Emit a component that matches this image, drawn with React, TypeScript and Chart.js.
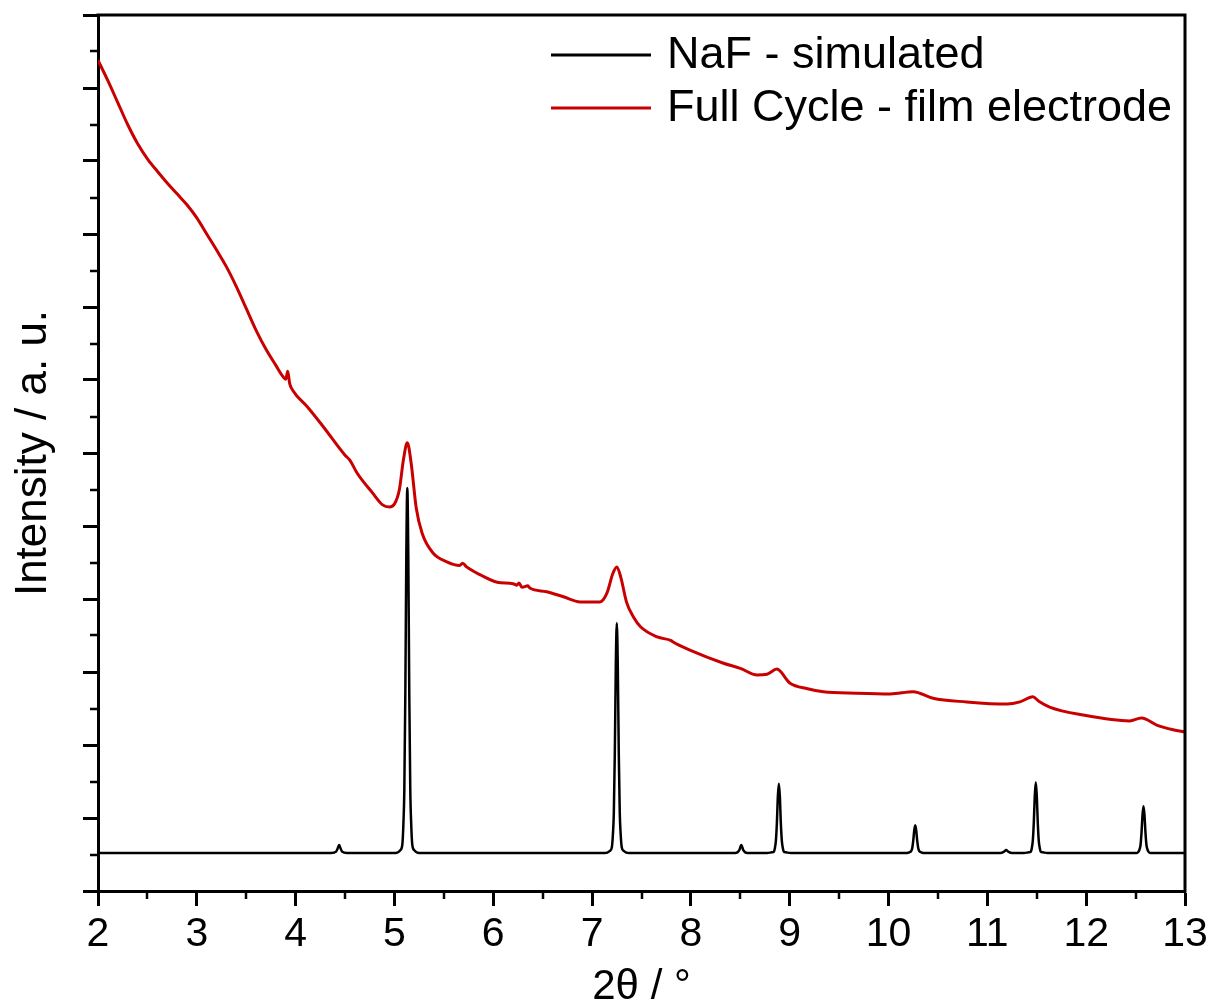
import React, { useEffect, useRef } from 'react';
import { Chart, registerables } from 'chart.js';

Chart.register(...registerables);

const FONT = "'Liberation Sans', Arial, sans-serif";

// NaF - simulated (black)
const nafTheta = [
  2.0, 4.36, 4.41, 4.43, 4.44, 4.45, 4.47, 4.52,
  5.01, 5.06, 5.08, 5.09, 5.10, 5.11, 5.12, 5.13, 5.14, 5.15, 5.16, 5.17, 5.18, 5.20, 5.25,
  7.13, 7.18, 7.20, 7.21, 7.22, 7.23, 7.24, 7.25, 7.26, 7.27, 7.28, 7.29, 7.30, 7.32, 7.37,
  8.45, 8.49, 8.51, 8.53, 8.57,
  8.77, 8.82, 8.84, 8.85, 8.86, 8.87, 8.88, 8.89, 8.90, 8.91, 8.92, 8.93, 8.94, 8.96, 9.01,
  10.16, 10.21, 10.23, 10.24, 10.25, 10.26, 10.27, 10.28, 10.29, 10.30, 10.31, 10.33, 10.38,
  11.13, 11.17, 11.19, 11.21, 11.25,
  11.37, 11.42, 11.44, 11.45, 11.46, 11.47, 11.48, 11.49, 11.50, 11.51, 11.52, 11.53, 11.54, 11.56, 11.61,
  12.47, 12.51, 12.53, 12.54, 12.55, 12.56, 12.57, 12.58, 12.59, 12.60, 12.61, 12.62, 12.63, 12.65, 12.70,
  13.0,
];
const nafIntensity = [
  0.52, 0.52, 0.54, 0.60, 0.63, 0.60, 0.54, 0.52,
  0.52, 0.56, 0.64, 0.90, 1.40, 2.70, 4.60, 5.52, 4.60, 2.70, 1.40, 0.90, 0.64, 0.56, 0.52,
  0.52, 0.55, 0.60, 0.76, 1.07, 1.89, 3.09, 3.67, 3.09, 1.89, 1.07, 0.76, 0.60, 0.55, 0.52,
  0.52, 0.56, 0.63, 0.56, 0.52,
  0.52, 0.53, 0.54, 0.59, 0.69, 0.93, 1.30, 1.47, 1.30, 0.93, 0.69, 0.59, 0.54, 0.53, 0.52,
  0.52, 0.53, 0.55, 0.59, 0.69, 0.83, 0.90, 0.83, 0.69, 0.59, 0.55, 0.53, 0.52,
  0.52, 0.54, 0.56, 0.54, 0.52,
  0.52, 0.53, 0.54, 0.59, 0.69, 0.94, 1.31, 1.49, 1.31, 0.94, 0.69, 0.59, 0.54, 0.53, 0.52,
  0.52, 0.52, 0.54, 0.57, 0.63, 0.80, 1.04, 1.16, 1.04, 0.80, 0.63, 0.57, 0.54, 0.52, 0.52,
  0.52,
];

// Full Cycle - film electrode (red)
const fullTheta = [
  2.00, 2.10, 2.20, 2.30, 2.40, 2.50, 2.60, 2.70, 2.80, 2.90, 3.00, 3.10, 3.20, 3.30, 3.40,
  3.50, 3.60, 3.70, 3.80, 3.87, 3.90, 3.92, 3.94, 3.97, 4.12, 4.28, 4.50, 4.55, 4.62, 4.78,
  4.88, 4.95, 5.00, 5.05, 5.09, 5.13, 5.17, 5.22, 5.28, 5.39, 5.53, 5.66, 5.69, 5.73, 5.87,
  6.04, 6.20, 6.24, 6.26, 6.29, 6.35, 6.37, 6.54, 6.71, 6.88, 7.08, 7.15, 7.21, 7.25, 7.29,
  7.35, 7.42, 7.49, 7.66, 7.80, 7.82, 7.99, 8.33, 8.50, 8.67, 8.77, 8.87, 9.00, 9.18, 9.34,
  9.68, 10.02, 10.25, 10.45, 10.79, 11.20, 11.33, 11.46, 11.52, 11.63, 11.97, 12.44, 12.56, 12.72, 12.88,
  13.00,
];
const fullIntensity = [
  11.38, 11.10, 10.80, 10.50, 10.24, 10.03, 9.86, 9.70, 9.55, 9.40, 9.22, 9.00, 8.78, 8.55, 8.28,
  7.98, 7.68, 7.42, 7.20, 7.05, 7.01, 7.12, 6.95, 6.86, 6.63, 6.36, 5.97, 5.90, 5.73, 5.45,
  5.29, 5.26, 5.30, 5.50, 5.90, 6.14, 5.85, 5.25, 4.90, 4.63, 4.51, 4.46, 4.49, 4.44, 4.33,
  4.23, 4.21, 4.19, 4.22, 4.16, 4.18, 4.15, 4.10, 4.03, 3.96, 3.96, 4.08, 4.35, 4.44, 4.30,
  3.95, 3.75, 3.62, 3.48, 3.43, 3.41, 3.30, 3.12, 3.05, 2.96, 2.97, 3.04, 2.85, 2.77, 2.73,
  2.71, 2.70, 2.73, 2.64, 2.59, 2.56, 2.59, 2.66, 2.60, 2.52, 2.41, 2.33, 2.37, 2.27, 2.21,
  2.18,
];

const seriesLabels = ['NaF - simulated', 'Full Cycle - film electrode'];
const seriesColors = ['#000000', '#c80000'];
const xTitle = '2θ / °';
const yTitle = 'Intensity / a. u.';

const framePlugin = {
  id: 'frameAndLegend',
  afterDraw(chart: any) {
    const { ctx, chartArea: a, scales } = chart;
    ctx.save();
    ctx.strokeStyle = '#000';
    ctx.lineWidth = 3;
    ctx.beginPath();
    ctx.moveTo(a.left - 1.5, a.top);
    ctx.lineTo(a.right, a.top);
    ctx.lineTo(a.right, a.bottom + 1.5);
    ctx.stroke();

    // minor ticks
    ctx.lineWidth = 2.5;
    ctx.beginPath();
    const xs = scales.x;
    const xt = xs.ticks;
    for (let i = 0; i < xt.length - 1; i++) {
      const px = Math.round(xs.getPixelForValue((xt[i].value + xt[i + 1].value) / 2));
      ctx.moveTo(px, a.bottom);
      ctx.lineTo(px, a.bottom + 8);
    }
    const ys = scales.y;
    const yt = ys.ticks;
    for (let i = 0; i < yt.length - 1; i++) {
      const py = Math.round(ys.getPixelForValue((yt[i].value + yt[i + 1].value) / 2));
      ctx.moveTo(a.left, py);
      ctx.lineTo(a.left - 8, py);
    }
    ctx.stroke();

    // legend
    const lx = a.left + 453;
    const ly = a.top + 40;
    const rowH = 53;
    ctx.font = `45px ${FONT}`;
    ctx.textBaseline = 'middle';
    ctx.textAlign = 'left';
    chart.data.datasets.forEach((ds: any, i: number) => {
      const y = ly + i * rowH;
      ctx.strokeStyle = ds.borderColor;
      ctx.lineWidth = 3;
      ctx.beginPath();
      ctx.moveTo(lx, y);
      ctx.lineTo(lx + 100, y);
      ctx.stroke();
      ctx.fillStyle = '#000';
      ctx.fillText(ds.label, lx + 116, y + 1);
    });
    ctx.restore();
  },
};

export default function App() {
  const ref = useRef<HTMLCanvasElement>(null);
  useEffect(() => {
    document.body.style.margin = '0';
    const naf = nafTheta.map((x, i) => ({ x, y: nafIntensity[i] }));
    const full = fullTheta.map((x, i) => ({ x, y: fullIntensity[i] }));
    const chart = new Chart(ref.current as HTMLCanvasElement, {
      type: 'line',
      data: {
        datasets: [
          {
            label: seriesLabels[0],
            data: naf,
            borderColor: seriesColors[0],
            borderWidth: 2.5,
            pointRadius: 0,
            cubicInterpolationMode: 'monotone',
            fill: false,
          },
          {
            label: seriesLabels[1],
            data: full,
            borderColor: seriesColors[1],
            borderWidth: 3,
            pointRadius: 0,
            cubicInterpolationMode: 'monotone',
            fill: false,
          },
        ],
      },
      options: {
        responsive: false,
        animation: false,
        devicePixelRatio: 1,
        layout: { padding: { left: 0, right: 27, top: 15, bottom: 0 } },
        plugins: {
          legend: { display: false },
          tooltip: { enabled: false },
        },
        scales: {
          x: {
            type: 'linear',
            min: 2,
            max: 13,
            afterFit: (s: any) => { s.height = 117; },
            ticks: {
              stepSize: 1,
              color: '#000',
              padding: 4,
              font: { family: FONT, size: 41 },
            },
            grid: {
              display: true,
              drawOnChartArea: false,
              drawTicks: true,
              tickLength: 15,
              tickWidth: 3,
              tickColor: '#000',
            },
            border: { display: true, color: '#000', width: 3 },
            title: {
              display: true,
              text: xTitle,
              color: '#000',
              font: { family: FONT, size: 42, lineHeight: 1 },
              padding: { top: 0, bottom: 0 },
            },
          },
          y: {
            type: 'linear',
            min: 0,
            max: 12,
            afterFit: (s: any) => { s.width = 98; },
            ticks: {
              stepSize: 1,
              callback: () => '',
            },
            grid: {
              display: true,
              drawOnChartArea: false,
              drawTicks: true,
              tickLength: 15,
              tickWidth: 3,
              tickColor: '#000',
            },
            border: { display: true, color: '#000', width: 3 },
            title: {
              display: true,
              text: yTitle,
              color: '#000',
              font: { family: FONT, size: 44, lineHeight: 1 },
              padding: { top: 12, bottom: 0 },
            },
          },
        },
      },
      plugins: [framePlugin],
    } as any);
    return () => chart.destroy();
  }, []);
  return <canvas ref={ref} width={1212} height={1008} style={{ display: 'block' }} />;
}
